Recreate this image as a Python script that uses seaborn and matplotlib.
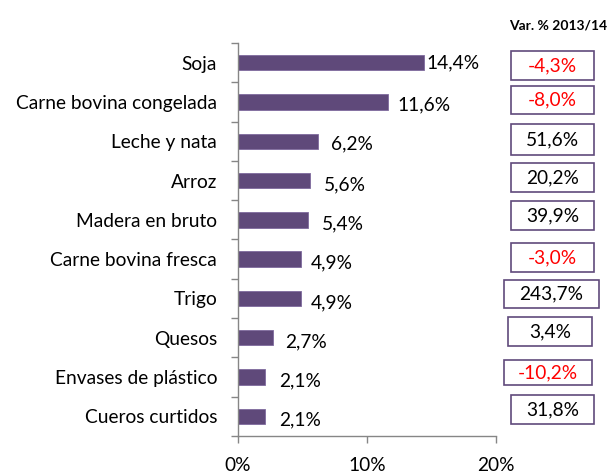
import numpy as np
import pandas as pd
import matplotlib
matplotlib.use("Agg")
import matplotlib.pyplot as plt
from matplotlib.patches import Rectangle
import seaborn as sns

categories = ["Soja", "Carne bovina congelada", "Leche y nata", "Arroz",
              "Madera en bruto", "Carne bovina fresca", "Trigo", "Quesos",
              "Envases de plástico", "Cueros curtidos"]
shares = [14.4, 11.6, 6.2, 5.6, 5.4, 4.9, 4.9, 2.7, 2.1, 2.1]
share_labels = ["14,4%", "11,6%", "6,2%", "5,6%", "5,4%", "4,9%", "4,9%", "2,7%", "2,1%", "2,1%"]
variation_labels = ["-4,3%", "-8,0%", "51,6%", "20,2%", "39,9%", "-3,0%",
                    "243,7%", "3,4%", "-10,2%", "31,8%"]
x_ticks = [0, 10, 20]
x_tick_labels = ["0%", "10%", "20%"]
header = "Var. % 2013/14"

sns.set_theme(style="white")
plt.rcParams['font.family'] = ['Lato', 'DejaVu Sans']

FS = 13.8
W, H = 609, 473
fig = plt.figure(figsize=(W / 100, H / 100), dpi=100)
ax = fig.add_axes([238 / W, 1 - 436 / H, (496 - 238) / W, (436 - 43) / H])

df = pd.DataFrame({"cat": categories, "share": shares})
sns.barplot(data=df, x="share", y="cat", orient="h", color="#5F497A",
            saturation=1, width=0.39, ax=ax)
for p in ax.patches:
    p.set_edgecolor("#7F6A9E")
    p.set_linewidth(0.6)

ax.set_xlim(0, 20)
ax.set_ylim(9.5, -0.5)
ax.set_xticks(x_ticks)
ax.set_xticklabels(x_tick_labels)
ax.set_yticks(range(len(categories)))
ax.set_yticklabels(categories)
ax.set_yticks(np.arange(-0.5, len(categories), 1.0), minor=True)
ax.set_xlabel("")
ax.set_ylabel("")

for s in ["top", "right"]:
    ax.spines[s].set_visible(False)
for s in ["left", "bottom"]:
    ax.spines[s].set_color("#868686")
    ax.spines[s].set_linewidth(1.0)

ax.tick_params(axis="y", which="major", length=0, pad=15, labelsize=FS, labelcolor="black")
ax.tick_params(axis="y", which="minor", length=5, color="#868686", width=1, direction="out", left=True)
ax.tick_params(axis="x", which="major", length=5, color="#868686", width=1, direction="out",
               bottom=True, pad=10, labelsize=FS, labelcolor="black")

offsets = [3, 10, 13, 14, 14, 10, 10, 12, 14, 14]
dys = [0, -3, -3, -4, -4, -4, -4, -4, -4, -4]
for i, (v, lab) in enumerate(zip(shares, share_labels)):
    ax.annotate(lab, xy=(v, i), xytext=(offsets[i], dys[i]), textcoords="offset pixels",
                ha="left", va="center", fontsize=FS, color="black")

# right-hand boxes (pixel layout: x0, x1, y0, y1)
box_layout = [(511, 594, 51, 80), (511, 594, 86, 114), (511, 594, 124, 155),
              (511, 594, 163, 192), (511, 594, 201, 230), (511, 594, 243, 272),
              (504, 599, 280, 308), (508, 592, 317, 346), (504, 592, 360, 385),
              (511, 594, 395, 424)]
for (x0, x1, y0, y1), lab in zip(box_layout, variation_labels):
    rect = Rectangle((x0 / W, 1 - y1 / H), (x1 - x0) / W, (y1 - y0) / H,
                     transform=fig.transFigure, facecolor="white",
                     edgecolor="#604A7B", linewidth=1.2)
    fig.patches.append(rect)
    col = "#FF0000" if lab.startswith("-") else "black"
    fig.text((x0 + x1) / 2 / W, 1 - (y0 + y1) / 2 / H, lab, ha="center", va="center",
             fontsize=FS, color=col)

fig.text(558 / W, 1 - 25 / H, header, ha="center", va="center", fontsize=10,
         fontweight="bold", color="black")

fig.savefig("out.png", dpi=100)
